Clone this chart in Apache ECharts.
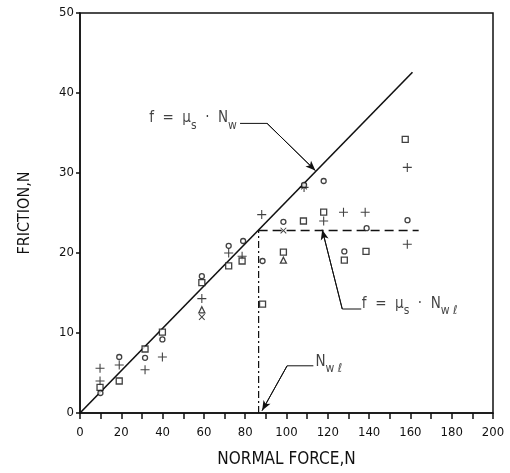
<!DOCTYPE html>
<html>
<head>
<meta charset="utf-8">
<script src="https://cdn.jsdelivr.net/npm/echarts@6/dist/echarts.min.js"></script>
<style>
html, body { margin: 0; padding: 0; background: #fff; }
#main { width: 510px; height: 473px; }
</style>
</head>
<body>
<div id="main"></div>
<script>
// measured points, one array per marker shape
var plusPts = [[9.7,5.6],[9.7,4.0],[19,6.0],[31.5,5.4],[39.9,7.0],[59,14.3],[72,20.0],[78.5,19.6],
  [88,24.8],[108.5,28.2],[118,24.0],[127.6,25.1],[138.1,25.1],[158.5,30.7],[158.5,21.1]];
var squarePts = [[9.7,3.2],[19,4.0],[31.5,8.0],[39.9,10.1],[59,16.3],[72,18.4],[78.5,19.0],
  [88.4,13.6],[98.5,20.1],[108.2,24.0],[118,25.1],[128,19.1],[138.5,20.2],[157.5,34.2]];
var circlePts = [[9.9,2.5],[19,7.0],[31.5,6.9],[39.9,9.2],[59,17.1],[72,20.9],[79,21.5],
  [88.4,19.0],[98.5,23.9],[108.5,28.5],[118,29.0],[128,20.2],[138.8,23.1],[158.6,24.1]];
var trianglePts = [[59,12.9],[98.5,19.1]];
var crossPts = [[59,12.0],[98.5,22.8],[108.5,28.3]];

var fitLine = [[0,0],[161,42.6]];
var limitLine = [[86.5,22.8],[164,22.8]];
var limitDrop = [[86.5,0],[86.5,22.8]];

var leader1 = [[77.5,36.2],[90.6,36.2],[114,30.3]];
var leader2 = [[136.2,13.0],[127,13.0],[117.3,22.9]];
var leader3 = [[113,5.9],[100.3,5.9],[88.2,0.3]];

var xTicks = [0,20,40,60,80,100,120,140,160,180,200];
var yTicks = [0,10,20,30,40,50];

var font = 'DejaVu Sans Condensed, DejaVu Sans, sans-serif';
var plusPath = 'path://M4.4,0H5.6V4.4H10V5.6H5.6V10H4.4V5.6H0V4.4H4.4Z';

var myChart = echarts.init(document.getElementById('main'));

function markers(data, symbol, size, filled, rotate) {
  return {
    type: 'scatter',
    data: data,
    symbol: symbol,
    symbolSize: size,
    symbolRotate: rotate || 0,
    itemStyle: filled
      ? { color: '#111' }
      : { color: '#fff', borderColor: '#111', borderWidth: 1.3 },
    z: 5
  };
}

function textLabel(pos, rich) {
  return {
    type: 'scatter',
    data: [pos],
    symbolSize: 0,
    silent: true,
    label: {
      show: true,
      position: 'right',
      distance: 0,
      formatter: rich,
      rich: {
        a: { fontFamily: font, fontSize: 15, color: '#111', lineHeight: 18 },
        s: { fontFamily: font, fontSize: 12, color: '#111', lineHeight: 18, padding: [14, 0, 0, 0] }
      }
    }
  };
}

// leader line: polyline, last segment carries the arrow head
function leader(coords) {
  var n = coords.length;
  return {
    type: 'line',
    data: coords,
    symbol: 'none',
    silent: true,
    lineStyle: { color: '#111', width: 1 },
    markLine: {
      silent: true,
      symbol: ['none', 'arrow'],
      symbolSize: [6, 10],
      label: { show: false },
      lineStyle: { color: '#111', width: 1, type: 'solid' },
      data: [[{ coord: coords[n - 2] }, { coord: coords[n - 1] }]]
    },
    z: 4
  };
}

var option = {
  backgroundColor: '#fff',
  animation: false,
  grid: { left: 80, right: 17, top: 13, bottom: 59, show: true, borderColor: '#111', borderWidth: 1.5 },
  xAxis: {
    type: 'value',
    min: 0, max: 200, interval: 20,
    name: 'NORMAL FORCE,N',
    nameLocation: 'middle',
    nameGap: 38,
    nameTextStyle: { fontFamily: font, fontSize: 17, color: '#111' },
    axisLine: { lineStyle: { color: '#111', width: 1.5 } },
    axisTick: { length: 6, lineStyle: { color: '#111', width: 1.5 } },
    minorTick: { show: true, splitNumber: 2, length: 6, lineStyle: { color: '#111', width: 1.5 } },
    splitLine: { show: false },
    axisLabel: {
      fontFamily: font, fontSize: 13, color: '#111', margin: 13,
      formatter: function (v) { return xTicks.indexOf(v) >= 0 ? String(v) : ''; }
    }
  },
  yAxis: {
    type: 'value',
    min: 0, max: 50, interval: 10,
    name: 'FRICTION,N',
    nameLocation: 'middle',
    nameGap: 47,
    nameTextStyle: { fontFamily: font, fontSize: 16, color: '#111' },
    axisLine: { lineStyle: { color: '#111', width: 1.5 } },
    axisTick: { length: 4, lineStyle: { color: '#111', width: 1.5 } },
    splitLine: { show: false },
    axisLabel: {
      fontFamily: font, fontSize: 13, color: '#111', margin: 6,
      formatter: function (v) { return yTicks.indexOf(v) >= 0 ? String(v) : ''; }
    }
  },
  series: [
    { type: 'line', data: fitLine, symbol: 'none', lineStyle: { color: '#111', width: 1.6 }, z: 3 },
    { type: 'line', data: limitLine, symbol: 'none', lineStyle: { color: '#111', width: 1.5, type: [9, 5] }, z: 3 },
    { type: 'line', data: limitDrop, symbol: 'none', lineStyle: { color: '#111', width: 1.2, type: [7, 3, 2, 3] }, z: 3 },
    leader(leader1),
    leader(leader2),
    leader(leader3),
    markers(plusPts, plusPath, 9, true),
    markers(crossPts, plusPath, 8, true, 45),
    markers(squarePts, 'rect', 6, false),
    markers(circlePts, 'circle', 5, false),
    markers(trianglePts, 'triangle', 6, false),
    textLabel([33.5, 36.8], '{a|f  =  μ}{s|s}{a|  ·  N}{s|w}'),
    textLabel([136.5, 13.6], '{a|f  =  μ}{s|s}{a|  ·  N}{s|w ℓ}'),
    textLabel([114, 6.4], '{a|N}{s|w ℓ}')
  ]
};

myChart.setOption(option);
</script>
</body>
</html>
